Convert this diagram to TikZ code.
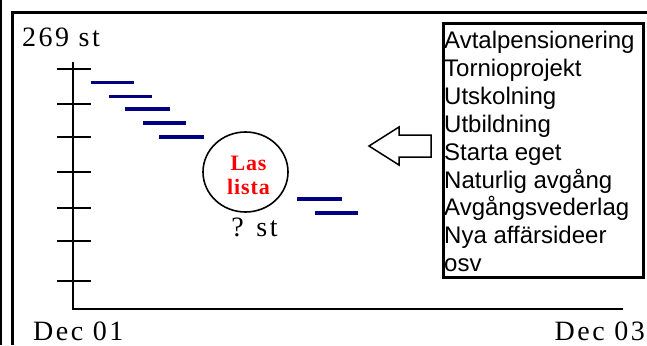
\documentclass[tikz,border=0pt]{standalone}
\usepackage{fontspec}
\setmainfont{Liberation Serif}
\newfontfamily\tnr[LetterSpace=9]{Liberation Serif}
\newfontfamily\tnrlas[LetterSpace=4]{Liberation Serif}
\newfontfamily\arial{Liberation Sans}
\usetikzlibrary{shapes.geometric}
\definecolor{navybar}{RGB}{0,0,128}
\definecolor{lasred}{RGB}{255,0,0}
\begin{document}
\begin{tikzpicture}[x=1pt,y=-1pt,
  frameline/.style={line width=3pt},
  axisline/.style={line width=1.8pt},
  tickline/.style={line width=1.8pt},
  bar/.style={draw=navybar, line width=#1},
  bar/.default=3pt,
  lbl/.style={font=\tnr\fontsize{28}{32}\selectfont, inner sep=0},
  listitem/.style={font=\arial\fontsize{24}{28}\selectfont, inner sep=0, anchor=base west},
]
\useasboundingbox (0,0) rectangle (647,345);
% frame
\draw[line width=2.5pt] (1.2,0) -- (1.2,345);
\draw[frameline] (12.5,345) -- (12.5,12.5) -- (647,12.5);
% axes
\coordinate (top) at (73,62);
\coordinate (origin) at (73,309);
\coordinate (xend) at (623,309);
\draw[axisline] (top) -- (origin) -- (xend);
\foreach \y [count=\i] in {69,104,137,172,208,241,281} {
  \coordinate (tl\i) at (57,\y);
  \coordinate (tr\i) at (91,\y);
  \draw[tickline] (tl\i) -- (tr\i);
}
% bars
\foreach \xa/\xb/\y/\w [count=\i] in {91/134/82/3pt,109/152/96/3pt,125/170/109/4.5pt,143/186/123/4.5pt,159/204/137/4.5pt,297/342/199/4pt,315/358/213/4pt} {
  \coordinate (ba\i) at (\xa,\y);
  \coordinate (bb\i) at (\xb,\y);
  \draw[bar=\w] (ba\i) -- (bb\i);
}
% circle
\node[ellipse, draw, line width=1.6pt, minimum width=85, minimum height=80, inner sep=0] (lasc) at (245.5,172) {};
\node[font=\tnrlas\bfseries\fontsize{22}{24}\selectfont, text=lasred, align=center, inner sep=0] (lastext) at (248.5,175) {Las\\lista};
\node[lbl, anchor=base] (qst) at (254.5,236) {? st};
% labels
\node[lbl, anchor=base west] (count) at (22,46) {269 st};
\node[lbl, anchor=base west] (dec01) at (33,340) {Dec 01};
\node[lbl, anchor=base east] (dec03) at (645,340) {Dec 03};
% hollow arrow
\draw[line width=1.5pt, line join=miter] (369,146) -- (399,127) -- (399,135) -- (431,135) -- (431,157) -- (399,157) -- (399,165) -- cycle;
% list box
\node[draw, line width=3pt, minimum width=200.5, minimum height=254.2, inner sep=0, outer sep=0, anchor=north west] (listbox) at (443,23.3) {};
\foreach \t [count=\i] in {Avtalpensionering,Tornioprojekt,Utskolning,Utbildning,Starta eget,Naturlig avgång,Avgångsvederlag,Nya affärsideer,osv} {
  \node[listitem] (item\i) at (444,{48.5+27.9*(\i-1)}) {\t};
}
\end{tikzpicture}
\end{document}
